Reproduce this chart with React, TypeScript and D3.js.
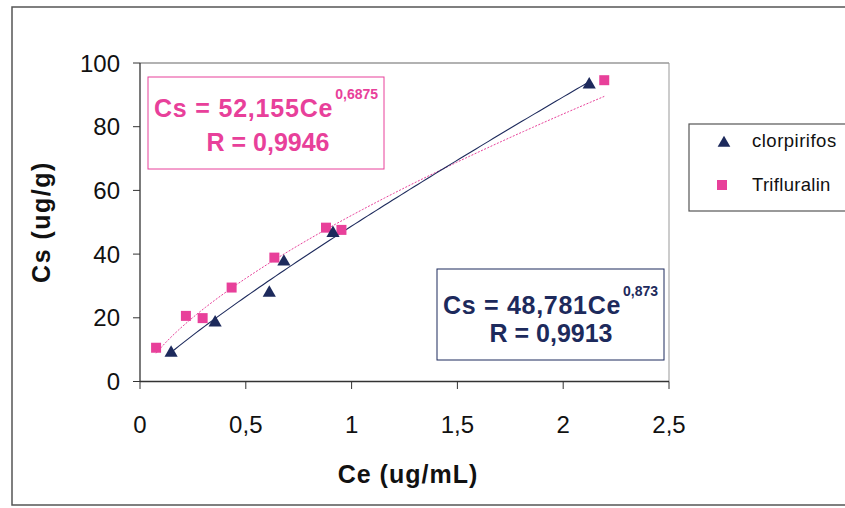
import React from 'react';
import * as d3 from 'd3';

// Clorpirifos measurements (Ce ug/mL, Cs ug/g)
const ceClor = [0.147, 0.355, 0.611, 0.68, 0.912, 2.123];
const csClor = [9.0, 18.5, 27.8, 37.6, 46.6, 93.2];

// Trifluralin measurements
const ceTrif = [0.076, 0.217, 0.296, 0.433, 0.635, 0.879, 0.952, 2.194];
const csTrif = [10.6, 20.6, 19.9, 29.5, 38.9, 48.3, 47.6, 94.6];

// power fits shown in the chart, Cs = a * Ce^b
const fitClor = { a: 48.781, b: 0.873, r: '0,9913' };
const fitTrif = { a: 52.155, b: 0.6875, r: '0,9946' };

const xTicks = [0, 0.5, 1, 1.5, 2, 2.5];
const yTicks = [0, 20, 40, 60, 80, 100];

const NAVY = '#1d2a5c';
const PINK = '#e8409a';
const FONT = 'Arial, "Liberation Sans", Helvetica, sans-serif';

const fmt = (v: number) => String(v).replace('.', ',');

export default function App() {
  const width = 845;
  const height = 508;
  const x = d3.scaleLinear().domain([0, 2.5]).range([140, 669]);
  const y = d3.scaleLinear().domain([0, 100]).range([381.5, 63]);

  const line = d3
    .line<number>()
    .x((d) => x(d[0]))
    .y((d) => y(d[1]));

  const curve = (fit: { a: number; b: number }, lo: number, hi: number) => {
    const pts = d3.range(0, 101).map((i) => {
      const c = lo + ((hi - lo) * i) / 100;
      return [c, fit.a * Math.pow(c, fit.b)];
    });
    return line(pts as any) || '';
  };

  const tri = d3.symbol().type(d3.symbolTriangle).size(75)() || '';
  const sq = d3.symbol().type(d3.symbolSquare).size(100)() || '';

  return (
    <svg
      width={width}
      height={height}
      style={{ position: 'absolute', left: 0, top: 0, background: '#fff' }}
      fontFamily={FONT}
    >
      {/* outer chart frame */}
      <rect x={12} y={7} width={850} height={498} fill="none" stroke="#555" strokeWidth={1.5} />

      {/* plot area border */}
      <line x1={140} x2={669} y1={63} y2={63} stroke="#666" strokeWidth={1.2} />
      <line x1={669} x2={669} y1={63} y2={381.5} stroke="#999" strokeWidth={1} />

      {/* axes */}
      <line x1={140} x2={140} y1={63} y2={381.5} stroke="#333" strokeWidth={1.3} />
      <line x1={140} x2={669} y1={381.5} y2={381.5} stroke="#333" strokeWidth={1.3} />

      {yTicks.map((t) => (
        <g key={'y' + t}>
          <line x1={133} x2={140} y1={y(t)} y2={y(t)} stroke="#333" />
          <text x={120} y={y(t)} dy="0.36em" textAnchor="end" fontSize={24} fill="#111">
            {fmt(t)}
          </text>
        </g>
      ))}
      {xTicks.map((t) => (
        <g key={'x' + t}>
          <line x1={x(t)} x2={x(t)} y1={381.5} y2={389} stroke="#333" />
          <text x={x(t)} y={424} dy="0.36em" textAnchor="middle" fontSize={24} fill="#111">
            {fmt(t)}
          </text>
        </g>
      ))}

      {/* axis titles */}
      <text
        transform="translate(50,222) rotate(-90)"
        textAnchor="middle"
        fontSize={25}
        fontWeight="bold"
        letterSpacing={1.5}
        fill="#111"
      >
        Cs (ug/g)
      </text>
      <text x={408} y={483} textAnchor="middle" fontSize={25} fontWeight="bold" letterSpacing={1} fill="#111">
        Ce (ug/mL)
      </text>

      {/* trend lines */}
      <path
        d={curve(fitTrif, d3.min(ceTrif)!, d3.max(ceTrif)!)}
        fill="none"
        stroke={PINK}
        strokeWidth={1}
        strokeDasharray="2,1.5"
      />
      <path d={curve(fitClor, d3.min(ceClor)!, d3.max(ceClor)!)} fill="none" stroke={NAVY} strokeWidth={1.1} />

      {/* markers */}
      {ceTrif.map((c, i) => (
        <path key={'t' + i} d={sq} transform={`translate(${x(c)},${y(csTrif[i])})`} fill={PINK} />
      ))}
      {ceClor.map((c, i) => (
        <path key={'c' + i} d={tri} transform={`translate(${x(c)},${y(csClor[i])})`} fill={NAVY} />
      ))}

      {/* Trifluralin equation box */}
      <rect x={148} y={77} width={236} height={92} fill="#fff" stroke={PINK} strokeWidth={1} />
      <text x={154} y={117} fontSize={25} fontWeight="bold" fill={PINK}>
        <tspan letterSpacing={0.8}>Cs = {fmt(fitTrif.a)}Ce</tspan>
        <tspan dx={2} dy={-18} fontSize={14}>
          {fmt(fitTrif.b)}
        </tspan>
      </text>
      <text x={268} y={151} textAnchor="middle" fontSize={25} fontWeight="bold" fill={PINK}>
        R = {fitTrif.r}
      </text>

      {/* Clorpirifos equation box */}
      <rect x={437} y={269} width={227} height={91} fill="#fff" stroke={NAVY} strokeWidth={1} />
      <text x={443} y={314} fontSize={25} fontWeight="bold" fill={NAVY}>
        <tspan letterSpacing={0.7}>Cs = {fmt(fitClor.a)}Ce</tspan>
        <tspan dx={2} dy={-18} fontSize={14}>
          {fmt(fitClor.b)}
        </tspan>
      </text>
      <text x={551} y={342} textAnchor="middle" fontSize={25} fontWeight="bold" fill={NAVY}>
        R = {fitClor.r}
      </text>

      {/* legend */}
      <rect x={689} y={124} width={170} height={87} fill="#fff" stroke="#555" strokeWidth={1.2} />
      <path d={d3.symbol().type(d3.symbolTriangle).size(70)() || ''} transform="translate(724,143)" fill={NAVY} />
      <text x={752} y={147} fontSize={18.5} letterSpacing={0.5} fill="#111">
        clorpirifos
      </text>
      <rect x={717} y={180} width={10} height={10} fill={PINK} />
      <text x={752} y={191} fontSize={18.5} letterSpacing={0.3} fill="#111">
        Trifluralin
      </text>
    </svg>
  );
}
